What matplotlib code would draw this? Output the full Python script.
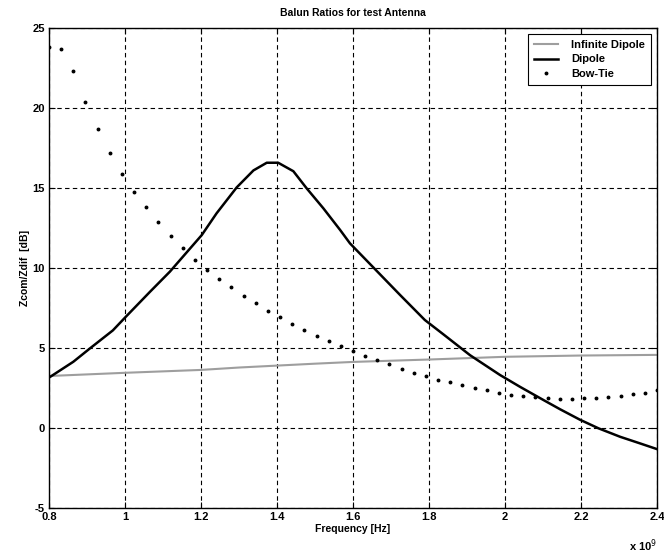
import matplotlib.pyplot as plt
import numpy as np

# frequency in units of 1e9 Hz
inf_freq = [0.8, 1.0, 1.2, 1.3, 1.4, 1.5, 1.6, 1.8, 2.0, 2.2, 2.4]
inf_val = [3.25, 3.45, 3.63, 3.78, 3.90, 4.02, 4.13, 4.28, 4.45, 4.53, 4.57]

dip_freq = [0.80, 0.864, 0.908, 0.968, 1.0, 1.066, 1.118, 1.202, 1.241, 1.294,
            1.338, 1.373, 1.403, 1.443, 1.478, 1.522, 1.566, 1.592, 1.724,
            1.789, 1.838, 1.908, 1.987, 2.039, 2.101, 2.145, 2.197, 2.246,
            2.303, 2.355, 2.4]
dip_val = [3.15, 4.14, 4.98, 6.1, 6.9, 8.52, 9.77, 12.06, 13.42, 15.04,
           16.1, 16.58, 16.58, 16.05, 14.98, 13.73, 12.38, 11.54, 8.31,
           6.75, 5.85, 4.55, 3.31, 2.58, 1.75, 1.17, 0.52, -0.02,
           -0.55, -0.96, -1.32]

bowtie_val = [23.8, 23.7, 22.3, 20.4, 18.7, 17.2, 15.9, 14.75, 13.8, 12.86,
              12.0, 11.25, 10.5, 9.88, 9.31, 8.79, 8.27, 7.79, 7.33, 6.96,
              6.5, 6.13, 5.77, 5.44, 5.13, 4.83, 4.52, 4.25, 4.0, 3.71,
              3.46, 3.25, 3.0, 2.9, 2.69, 2.48, 2.38, 2.2, 2.06, 2.0,
              1.92, 1.85, 1.81, 1.81, 1.85, 1.85, 1.96, 2.02, 2.1, 2.2, 2.38]
bowtie_freq = np.linspace(0.8, 2.4, len(bowtie_val))

xticks = [0.8, 1.0, 1.2, 1.4, 1.6, 1.8, 2.0, 2.2, 2.4]
xtick_labels = ["0.8", "1", "1.2", "1.4", "1.6", "1.8", "2", "2.2", "2.4"]
yticks = [-5, 0, 5, 10, 15, 20, 25]

plt.rcParams['font.family'] = ['Liberation Sans', 'DejaVu Sans']
plt.rcParams['axes.unicode_minus'] = False

fig = plt.figure(figsize=(6.64, 5.55), dpi=100)
ax = fig.add_axes([0.0738, 0.0847, 0.9157, 0.8648])

ax.plot(inf_freq, inf_val, color='0.62', lw=1.5, label='Infinite Dipole')
ax.plot(dip_freq, dip_val, color='k', lw=1.8, label='Dipole')
ax.plot(bowtie_freq, bowtie_val, 'k.', ms=3.6, label='Bow-Tie')

ax.set_xlim(0.8, 2.4)
ax.set_ylim(-5, 25)
ax.set_xticks(xticks)
ax.set_xticklabels(xtick_labels)
ax.set_yticks(yticks)
ax.grid(True, color='k', lw=0.8, linestyle=(0, (4, 3)))
ax.tick_params(direction='in', top=True, right=True, length=4,
               labelsize=8, pad=3)
for lab in ax.get_xticklabels() + ax.get_yticklabels():
    lab.set_fontweight('bold')
for sp in ax.spines.values():
    sp.set_linewidth(1.0)

ax.set_title('Balun Ratios for test Antenna', fontsize=7.5, fontweight='bold', pad=9)
ax.set_xlabel('Frequency [Hz]', fontsize=7.5, fontweight='bold', labelpad=1)
ax.set_ylabel('Zcom/Zdif  [dB]', fontsize=7.5, fontweight='bold', labelpad=2)
ax.text(1.0, -0.062, r'x 10$^{9}$', transform=ax.transAxes, ha='right',
        va='top', fontsize=8, fontweight='bold')

leg = ax.legend(loc='upper right', fontsize=8, fancybox=False, framealpha=1,
                edgecolor='k', borderaxespad=0.5, handlelength=2.1,
                handletextpad=1.2, labelspacing=0.38, borderpad=0.6)
leg.get_frame().set_linewidth(0.8)
for t in leg.get_texts():
    t.set_fontweight('bold')

fig.savefig('out.png', dpi=100)
